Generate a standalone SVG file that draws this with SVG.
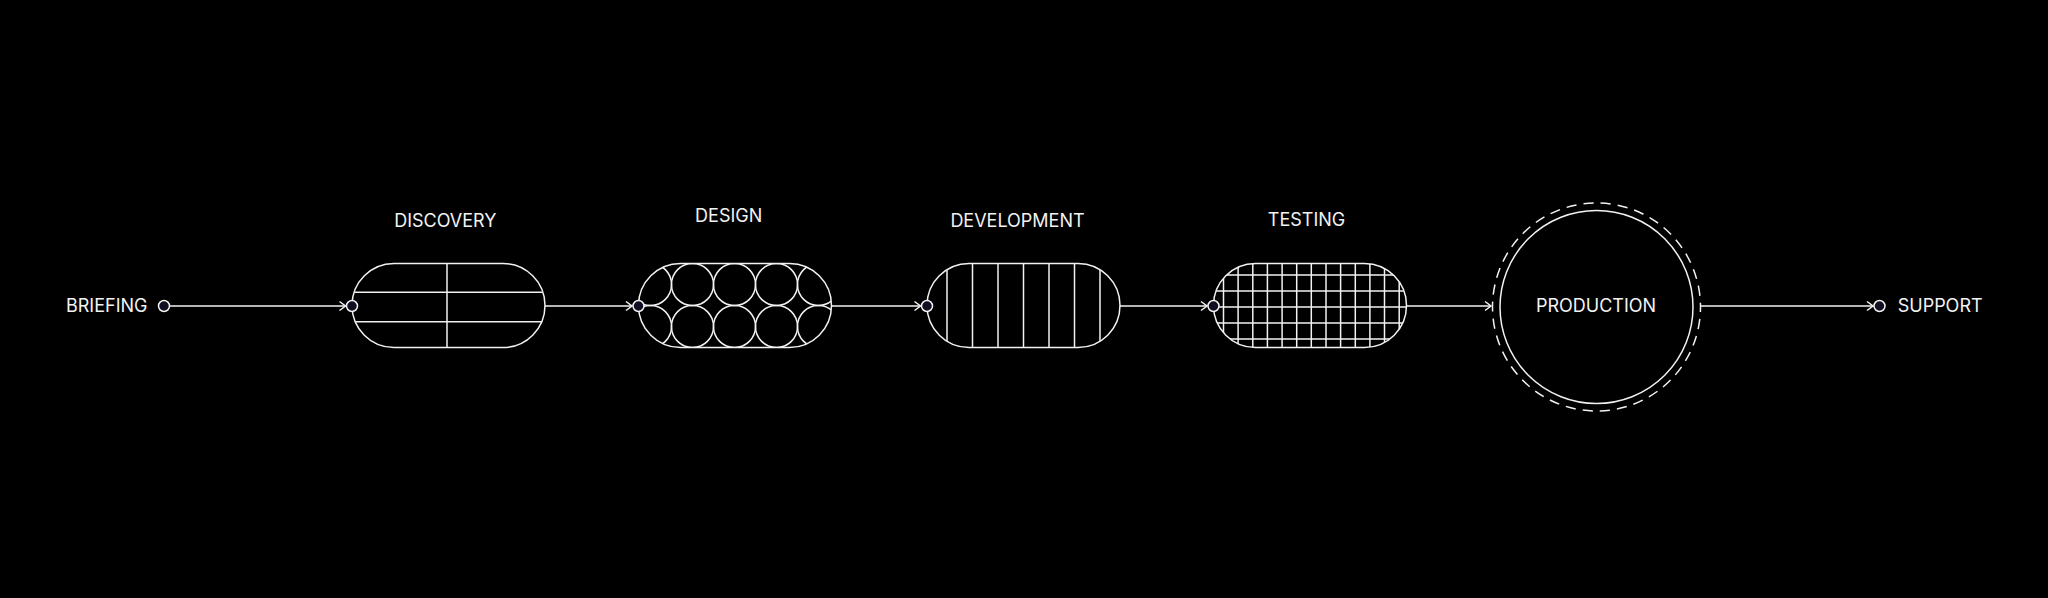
<svg xmlns="http://www.w3.org/2000/svg" width="2048" height="598" viewBox="0 0 2048 598">
<style>
.bg{fill:#000}
.ln{fill:none;stroke:#f2f2f2;stroke-width:1.5}
.pill{fill:none;stroke:#f2f2f2;stroke-width:1.5}
.dot{fill:#100e22;stroke:#f2f2f2;stroke-width:1.5}
.lbl{font-family:Inter,"Liberation Sans",sans-serif;font-size:18px;fill:#f2f2f2}
.mid{text-anchor:middle}
</style>
<defs>
<marker id="chev" markerUnits="userSpaceOnUse" markerWidth="14" markerHeight="14" viewBox="-8 -7 10 14" refX="0" refY="0" orient="auto">
<path d="M-6,-4.5 L0,0 L-6,4.5" fill="none" stroke="#f2f2f2" stroke-width="1.5"/>
</marker>
<clipPath id="c1"><rect x="352" y="263.5" width="193" height="84" rx="42"/></clipPath>
<clipPath id="c2"><rect x="638.5" y="263.5" width="193" height="84" rx="42"/></clipPath>
<clipPath id="c3"><rect x="927" y="263.5" width="193" height="84" rx="42"/></clipPath>
<clipPath id="c4"><rect x="1213.5" y="263.5" width="193" height="84" rx="42"/></clipPath>
</defs>
<rect class="bg" x="0" y="0" width="2048" height="598"/>

<g id="connectors">
<path class="ln" d="M170,306 H345.5" marker-end="url(#chev)"/>
<path class="ln" d="M545,306 H632" marker-end="url(#chev)"/>
<path class="ln" d="M831.5,306 H920.5" marker-end="url(#chev)"/>
<path class="ln" d="M1120,306 H1207" marker-end="url(#chev)"/>
<path class="ln" d="M1406.5,306 H1491" marker-end="url(#chev)"/>
<path class="ln" d="M1700.5,306 H1873" marker-end="url(#chev)"/>
</g>

<g id="briefing">
<circle class="dot" cx="164" cy="306" r="5.5"/>
<text class="lbl" x="66" y="311.7">BRIEFING</text>
</g>

<g id="discovery">
<text class="lbl mid" x="445.3" y="226.7">DISCOVERY</text>
<g clip-path="url(#c1)">
<path class="ln" d="M340,292.3 H560 M340,321.7 H560 M447,250 V360"/>
</g>
<rect class="pill" x="352" y="263.5" width="193" height="84" rx="42"/>
<circle class="dot" cx="352" cy="306" r="5.5"/>
</g>

<g id="design">
<text class="lbl mid" x="728.7" y="222.3">DESIGN</text>
<g clip-path="url(#c2)" class="ln">
<circle cx="650.5" cy="284.5" r="21"/><circle cx="692.5" cy="284.5" r="21"/><circle cx="734.5" cy="284.5" r="21"/><circle cx="776.5" cy="284.5" r="21"/><circle cx="818.5" cy="284.5" r="21"/>
<circle cx="650.5" cy="326.5" r="21"/><circle cx="692.5" cy="326.5" r="21"/><circle cx="734.5" cy="326.5" r="21"/><circle cx="776.5" cy="326.5" r="21"/><circle cx="818.5" cy="326.5" r="21"/>
</g>
<rect class="pill" x="638.5" y="263.5" width="193" height="84" rx="42"/>
<circle class="dot" cx="638.5" cy="306" r="5.5"/>
</g>

<g id="development">
<text class="lbl mid" x="1017.5" y="226.7">DEVELOPMENT</text>
<g clip-path="url(#c3)">
<path class="ln" d="M947,250 V360 M972.5,250 V360 M998,250 V360 M1023.5,250 V360 M1049,250 V360 M1074.5,250 V360 M1100,250 V360"/>
</g>
<rect class="pill" x="927" y="263.5" width="193" height="84" rx="42"/>
<circle class="dot" cx="927" cy="306" r="5.5"/>
</g>

<g id="testing">
<text class="lbl mid" x="1306.5" y="226">TESTING</text>
<g clip-path="url(#c4)">
<path class="ln" d="M1223.5,250 V360 M1238.1,250 V360 M1252.8,250 V360 M1267.4,250 V360 M1282.1,250 V360 M1296.7,250 V360 M1311.3,250 V360 M1326,250 V360 M1340.6,250 V360 M1355.3,250 V360 M1369.9,250 V360 M1384.5,250 V360 M1399.2,250 V360"/>
<path class="ln" d="M1200,275 H1420 M1200,291 H1420 M1200,307 H1420 M1200,323 H1420 M1200,339 H1420"/>
</g>
<rect class="pill" x="1213.5" y="263.5" width="193" height="84" rx="42"/>
<circle class="dot" cx="1213.5" cy="306" r="5.5"/>
</g>

<g id="production">
<circle class="ln" cx="1596.5" cy="307" r="104" stroke-dasharray="10.2 7" stroke-dashoffset="5.1"/>
<circle class="ln" cx="1596.5" cy="307" r="96.5"/>
<text class="lbl mid" x="1596" y="312.3">PRODUCTION</text>
</g>

<g id="support">
<circle class="dot" cx="1879.5" cy="306" r="5.5"/>
<text class="lbl" x="1897.7" y="311.7">SUPPORT</text>
</g>
</svg>
